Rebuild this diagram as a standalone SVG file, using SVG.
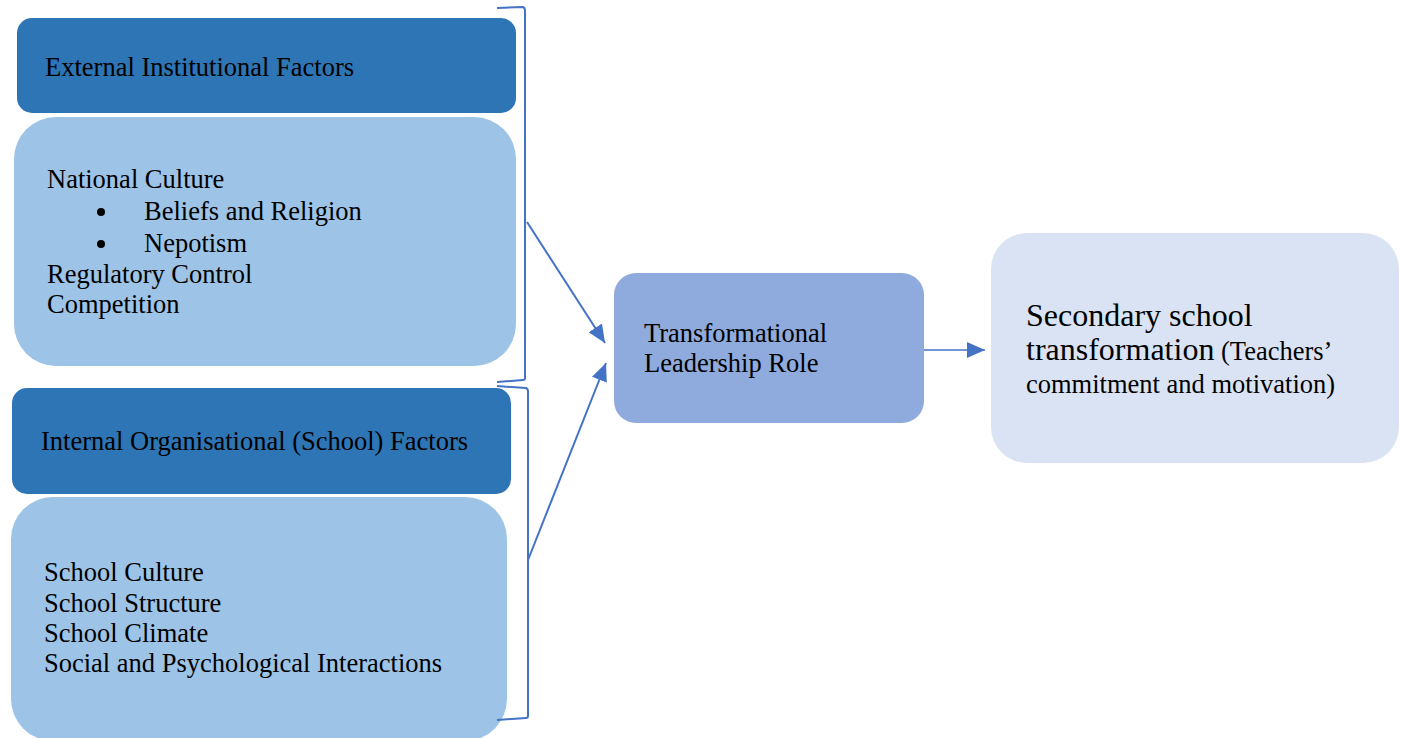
<svg xmlns="http://www.w3.org/2000/svg" width="1403" height="738" viewBox="0 0 1403 738">
  <style>
    .t { font-family: "Liberation Serif", "Times New Roman", serif; font-size: 26.5px; fill: #000; }
    .big { font-size: 32px; }
    .dark { fill: #2E75B6; }
    .light { fill: #9DC3E6; }
    .mid { fill: #8FAADC; }
    .pale { fill: #DAE3F3; }
    .brace { fill: none; stroke: #4472C4; stroke-width: 2; stroke-linejoin: round; }
    .conn { fill: none; stroke: #4472C4; stroke-width: 2; }
    .conn.thin { stroke-width: 1.5; }
  </style>
  <defs>
    <marker id="arrow" markerUnits="userSpaceOnUse" markerWidth="20" markerHeight="16" refX="18" refY="8" orient="auto">
      <path d="M0,0 L18,8 L0,16 Z" fill="#4472C4"/>
    </marker>
  </defs>
  <rect width="1403" height="738" fill="#fff"/>

  <!-- External institutional factors -->
  <g id="external-header">
    <rect class="dark" x="17" y="18" width="499" height="95" rx="15"/>
    <text class="t" x="45" y="76">External Institutional Factors</text>
  </g>
  <g id="external-items">
    <rect class="light" x="14" y="117" width="502" height="249" rx="42"/>
    <text class="t" x="47" y="188">National Culture</text>
    <circle cx="101" cy="212" r="4" fill="#000"/>
    <text class="t" x="144" y="220">Beliefs and Religion</text>
    <circle cx="101" cy="244" r="4" fill="#000"/>
    <text class="t" x="144" y="252">Nepotism</text>
    <text class="t" x="47" y="283">Regulatory Control</text>
    <text class="t" x="47" y="313">Competition</text>
  </g>

  <!-- Internal organisational factors -->
  <g id="internal-header">
    <rect class="dark" x="12" y="388" width="499" height="106" rx="15"/>
    <text class="t" x="41" y="450">Internal Organisational (School) Factors</text>
  </g>
  <g id="internal-items">
    <rect class="light" x="11" y="497" width="496" height="244" rx="42"/>
    <text class="t" x="44" y="581">School Culture</text>
    <text class="t" x="44" y="612">School Structure</text>
    <text class="t" x="44" y="642">School Climate</text>
    <text class="t" x="44" y="672">Social and Psychological Interactions</text>
  </g>

  <!-- Leadership role -->
  <g id="leadership">
    <rect class="mid" x="614" y="273" width="310" height="150" rx="22"/>
    <text class="t" x="644" y="342">Transformational</text>
    <text class="t" x="644" y="372">Leadership Role</text>
  </g>

  <!-- Outcome -->
  <g id="outcome">
    <rect class="pale" x="991" y="233" width="408" height="230" rx="36"/>
    <text class="t big" x="1026" y="326">Secondary school</text>
    <text class="t" x="1026" y="360"><tspan class="big">transformation</tspan> (Teachers’</text>
    <text class="t" x="1026" y="393">commitment and motivation)</text>
  </g>

  <!-- Brackets and arrows -->
  <g id="connectors">
    <path class="brace" d="M497,8 L523,7 Q525,8 525,10 L525,378 Q525,380 523,380 L497,382"/>
    <path class="brace" d="M497,386 L526,388 Q528,389 528,391 L528,716 Q528,718 526,718 L497,720"/>
    <line class="conn" x1="527" y1="222" x2="605" y2="343" marker-end="url(#arrow)"/>
    <line class="conn" x1="528" y1="560" x2="606" y2="363" marker-end="url(#arrow)"/>
    <line class="conn thin" x1="924" y1="350" x2="985" y2="350" marker-end="url(#arrow)"/>
  </g>
</svg>
